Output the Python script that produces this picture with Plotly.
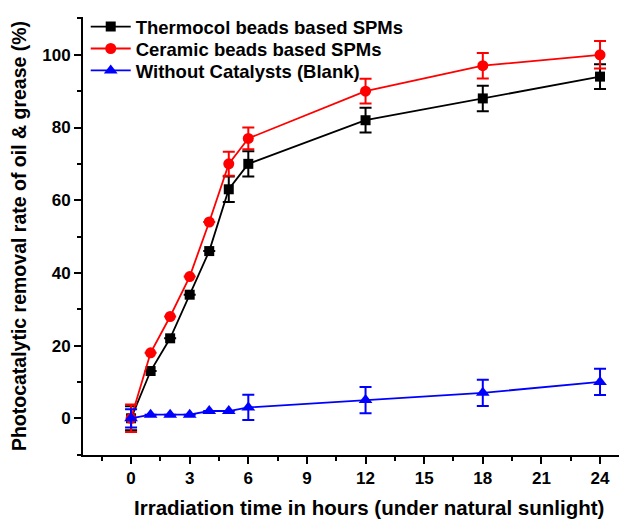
import plotly.graph_objects as go

hours = [0, 1, 2, 3, 4, 5, 6, 12, 18, 24]

thermocol = [0, 13, 22, 34, 46, 63, 70, 82, 88, 94]
thermocol_err = [3.3, 0, 0, 0, 0, 3.5, 3.5, 3.4, 3.5, 3.4]

ceramic = [0, 18, 28, 39, 54, 70, 77, 90, 97, 100]
ceramic_err = [3.8, 0, 0, 0, 0, 3.3, 3.0, 3.4, 3.5, 3.8]

blank = [0, 1, 1, 1, 2, 2, 3, 5, 7, 10]
blank_err = [2.5, 0, 0, 0, 0, 0, 3.5, 3.6, 3.6, 3.6]

x_ticks = [0, 3, 6, 9, 12, 15, 18, 21, 24]
y_ticks = [0, 20, 40, 60, 80, 100]

x_title = "Irradiation time in hours (under natural sunlight)"
y_title = "Photocatalytic removal rate of oil & grease (%)"

FONT = "Liberation Sans, Arial, sans-serif"

fig = go.Figure()

def add(name, y, err, color, symbol, size, legend):
    fig.add_trace(go.Scatter(
        x=hours, y=y, name=name, mode="lines+markers",
        line=dict(color=color, width=1.8),
        marker=dict(symbol=symbol, size=size, color=color),
        error_y=dict(type="data", array=err, visible=True, color=color,
                     thickness=2, width=6),
        legend=legend,
    ))

add("Thermocol beads based SPMs", thermocol, thermocol_err, "black", "square", 10, "legend")
add("Ceramic beads based SPMs", ceramic, ceramic_err, "red", "circle", 11, "legend2")
add("Without Catalysts (Blank)", blank, blank_err, "blue", "triangle-up", 12, "legend3")

axis_common = dict(
    showline=True, linecolor="black", linewidth=2,
    ticks="outside", ticklen=7, tickwidth=2, tickcolor="black",
    showgrid=False, zeroline=False, mirror=False, automargin=False,
    tickfont=dict(family=FONT, size=17, color="black", weight="bold"),
)

def legend_at(y):
    return dict(
        x=0.005, y=y, xanchor="left", yanchor="middle",
        bgcolor="rgba(0,0,0,0)",
        font=dict(family=FONT, size=18.5, color="black", weight="bold"),
        itemwidth=40,
    )

fig.update_layout(
    width=619, height=511,
    margin=dict(l=75, r=0, t=7, b=64),
    plot_bgcolor="white", paper_bgcolor="white",
    font=dict(family=FONT, color="black"),
    xaxis=dict(
        range=[-2.46, 25.38], tickvals=x_ticks,
        minor=dict(dtick=1.5, tick0=0, ticks="outside", ticklen=4,
                   tickwidth=2, tickcolor="black"),
        **axis_common,
    ),
    yaxis=dict(
        range=[-10.1, 110.4], tickvals=y_ticks,
        minor=dict(dtick=10, tick0=0, ticks="outside", ticklen=4,
                   tickwidth=2, tickcolor="black"),
        title=dict(text=y_title,
                   font=dict(family=FONT, size=19.5, color="black", weight="bold"),
                   standoff=13),
        **axis_common,
    ),
    legend=legend_at(0.977),
    legend2=legend_at(0.927),
    legend3=legend_at(0.877),
    showlegend=True,
    annotations=[dict(
        text=x_title, xref="paper", yref="paper", x=0.526, y=-0.12,
        xanchor="center", yanchor="middle", showarrow=False,
        font=dict(family=FONT, size=20.5, color="black", weight="bold"),
    )],
)

fig.write_html("out.html")
